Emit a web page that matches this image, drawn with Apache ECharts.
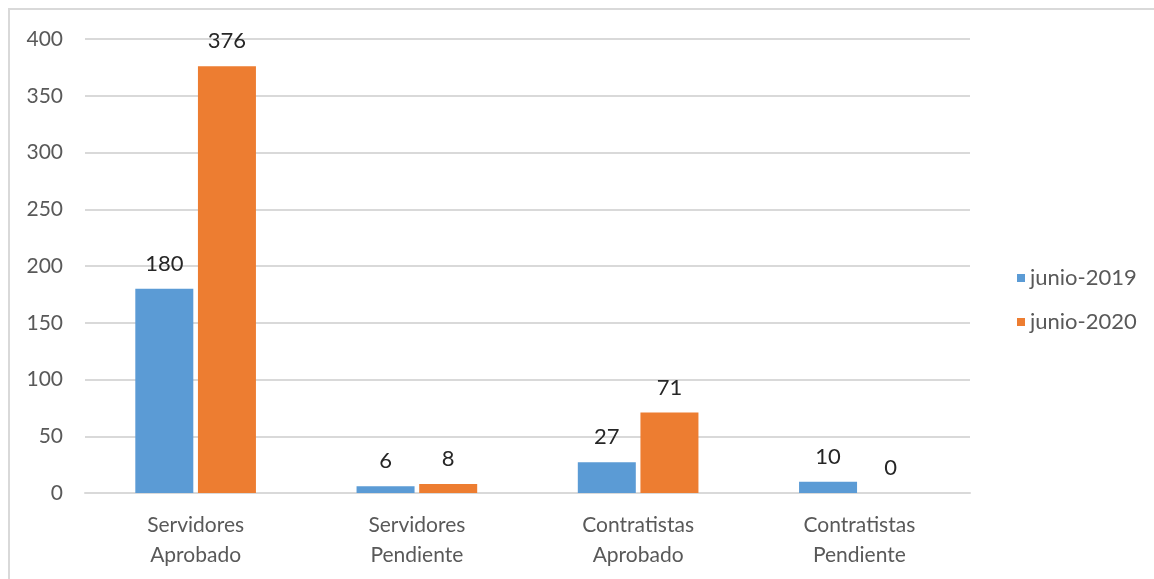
<!DOCTYPE html>
<html>
<head>
<meta charset="utf-8">
<script src="https://cdn.jsdelivr.net/npm/echarts@6/dist/echarts.min.js"></script>
<style>
  html, body { margin: 0; padding: 0; background: #fff; }
  #chart { width: 1154px; height: 579px; }
</style>
</head>
<body>
<div id="chart"></div>
<script>
// categorías y valores
const categories = ["Servidores\nAprobado", "Servidores\nPendiente", "Contratistas\nAprobado", "Contratistas\nPendiente"];
const junio2019 = [180, 6, 27, 10];
const junio2020 = [376, 8, 71, 0];
const yTicks = { min: 0, max: 400, interval: 50 };

const myChart = echarts.init(document.getElementById("chart"));
const font = "Lato, 'Open Sans', sans-serif";

let option = {
  color: ["#5B9BD5", "#ED7D31"],
  textStyle: { fontFamily: font },
  animation: false,
  graphic: [
    {
      type: "rect",
      shape: { x: 9, y: 9, width: 1160, height: 590 },
      style: { fill: "none", stroke: "#D9D9D9", lineWidth: 2 },
      silent: true,
    },
  ],
  legend: {
    orient: "vertical",
    left: 1012,
    top: 262,
    itemWidth: 8,
    itemHeight: 8,
    itemGap: 22,
    icon: "rect",
    textStyle: { color: "#595959", fontSize: 22, fontFamily: font },
  },
  grid: {
    left: 85,
    right: 184,
    top: 39,
    bottom: 86,
  },
  xAxis: {
    type: "category",
    data: categories,
    // 去除刻度
    axisTick: { show: false },
    axisLine: { lineStyle: { color: "#D9D9D9", width: 2 } },
    axisLabel: {
      color: "#595959",
      fontSize: 21,
      lineHeight: 30,
      margin: 17,
      fontFamily: font,
    },
  },
  yAxis: {
    type: "value",
    min: yTicks.min,
    max: yTicks.max,
    interval: yTicks.interval,
    axisLine: { show: false },
    axisTick: { show: false },
    axisLabel: { color: "#595959", fontSize: 21, margin: 22, fontFamily: font },
    splitLine: { lineStyle: { color: "#D9D9D9", width: 2 } },
  },
  series: [
    {
      name: "junio-2019",
      type: "bar",
      data: junio2019,
      barWidth: 58,
      barGap: "8%",
      label: { show: true, position: "top", distance: 14, color: "#262626", fontSize: 22, fontFamily: font },
    },
    {
      name: "junio-2020",
      type: "bar",
      data: junio2020,
      barWidth: 58,
      barGap: "8%",
      label: { show: true, position: "top", distance: 14, color: "#262626", fontSize: 22, fontFamily: font },
    },
  ],
};
myChart.setOption(option);
</script>
</body>
</html>
